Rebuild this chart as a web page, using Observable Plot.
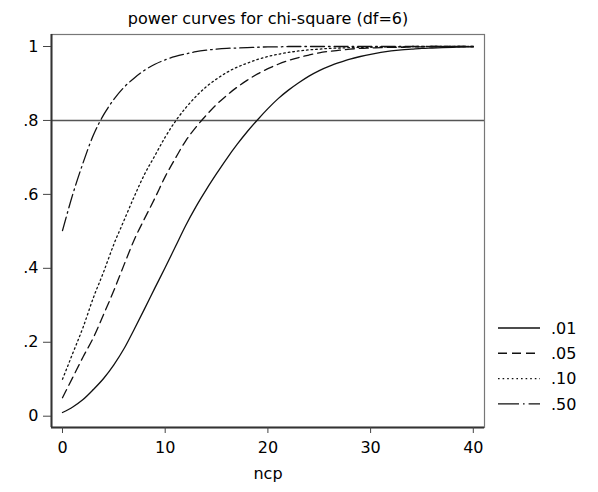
<!DOCTYPE html>
<html>
<head>
<meta charset="utf-8">
<script src="https://cdn.jsdelivr.net/npm/d3@7"></script>
<script src="https://cdn.jsdelivr.net/npm/@observablehq/plot@0.6"></script>
<style>
  html, body { margin: 0; padding: 0; background: #fff; }
  #wrap { position: relative; width: 598px; height: 492px; }
  #wrap svg { display: block; }
  #legend { position: absolute; left: 0; top: 0; pointer-events: none; }
</style>
</head>
<body>
<div id="wrap"></div>
<script>
const title = "power curves for chi-square (df=6)";
const xLabel = "ncp";
const ncp = [0,1,2,3,4,5,6,7,8,9,10,11,12,13,14,15,16,17,18,19,20,21,22,23,24,25,26,27,28,29,30,31,32,33,34,35,36,37,38,39,40];
const p01 = [0.010,0.025,0.045,0.072,0.102,0.139,0.183,0.236,0.291,0.347,0.402,0.459,0.516,0.567,0.613,0.656,0.697,0.735,0.770,0.802,0.832,0.859,0.882,0.902,0.920,0.935,0.947,0.957,0.966,0.973,0.979,0.984,0.988,0.991,0.993,0.995,0.996,0.997,0.998,0.999,0.999];
const p05 = [0.050,0.105,0.160,0.212,0.275,0.340,0.410,0.478,0.535,0.590,0.648,0.698,0.745,0.782,0.814,0.843,0.868,0.890,0.909,0.926,0.940,0.952,0.962,0.970,0.977,0.983,0.987,0.990,0.993,0.995,0.996,0.997,0.998,0.998,0.999,0.999,1.000,1.000,1.000,1.000,1.000];
const p10 = [0.100,0.170,0.240,0.320,0.390,0.465,0.530,0.595,0.655,0.705,0.755,0.798,0.834,0.865,0.891,0.912,0.930,0.944,0.955,0.965,0.973,0.979,0.984,0.988,0.991,0.993,0.995,0.996,0.997,0.998,0.998,0.999,0.999,0.999,1.000,1.000,1.000,1.000,1.000,1.000,1.000];
const p50 = [0.502,0.600,0.685,0.760,0.815,0.857,0.890,0.915,0.936,0.952,0.964,0.973,0.980,0.986,0.990,0.993,0.995,0.996,0.997,0.998,0.999,0.999,1.000,1.000,1.000,1.000,1.000,1.000,1.000,1.000,1.000,1.000,1.000,1.000,1.000,1.000,1.000,1.000,1.000,1.000,1.000];
const seriesNames = [".01", ".05", ".10", ".50"];
const seriesValues = [p01, p05, p10, p50];
const xTicks = [0, 10, 20, 30, 40];
const yTicks = [0, 0.2, 0.4, 0.6, 0.8, 1];
const refLine = [0.8];

const dashes = ["none", "9,5", "1.6,3", "14,4,1.6,4"];
const font = "'DejaVu Sans', sans-serif";
const ink = "#111";

const rows = [];
seriesNames.forEach((name, i) => {
  ncp.forEach((x, j) => rows.push({series: name, ncp: x, power: seriesValues[i][j]}));
});

const xDomain = [-1.07, 41.09];
const yDomain = [-0.0306, 1.0325];
const fmtY = d => d === 0 ? "0" : d === 1 ? "1" : d3.format(".1f")(d).replace(/^0/, "");

const chart = Plot.plot({
  width: 598,
  height: 492,
  marginLeft: 51,
  marginRight: 114,
  marginTop: 34,
  marginBottom: 65,
  style: {fontFamily: font, fontSize: "16px", color: "#000", background: "#fff"},
  x: {domain: xDomain},
  y: {domain: yDomain},
  marks: [
    Plot.ruleY(refLine, {stroke: "#555", strokeWidth: 1.4}),
    ...seriesNames.map((name, i) =>
      Plot.line(rows.filter(r => r.series === name), {
        x: "ncp", y: "power", stroke: ink, strokeWidth: 1.3,
        strokeDasharray: dashes[i] === "none" ? undefined : dashes[i],
        curve: "monotone-x"
      })
    ),
    Plot.frame({stroke: "#777", strokeWidth: 1.2}),
    Plot.ruleX([xDomain[0]], {stroke: "#333", strokeWidth: 2}),
    Plot.ruleY([yDomain[0]], {stroke: "#333", strokeWidth: 2}),
    Plot.axisX({ticks: xTicks, tickFormat: d => String(d), tickSize: 6, tickPadding: 8, stroke: "#444", label: null, fontSize: 16}),
    Plot.axisY({ticks: yTicks, tickFormat: fmtY, tickSize: 8, tickPadding: 5, stroke: "#444", label: null, fontSize: 16}),
    Plot.text([xLabel], {frameAnchor: "bottom", lineAnchor: "middle", dy: 46, fontSize: 16, fill: "#000"}),
    Plot.text([title], {frameAnchor: "top", lineAnchor: "middle", dy: -16, fontSize: 16, fill: "#000"})
  ]
});

const wrap = document.getElementById("wrap");
wrap.appendChild(chart);

// legend
const leg = d3.select(wrap).append("svg")
  .attr("id", "legend")
  .attr("width", 598).attr("height", 492);
const legX0 = 498, legX1 = 540, legY0 = 328, legStep = 25.3;
seriesNames.forEach((name, i) => {
  const y = legY0 + i * legStep;
  leg.append("line")
    .attr("x1", legX0).attr("x2", legX1).attr("y1", y).attr("y2", y)
    .attr("stroke", ink).attr("stroke-width", 1.4)
    .attr("stroke-dasharray", i === 3 ? "21,4,1.6,4" : (dashes[i] === "none" ? null : dashes[i]));
  leg.append("text")
    .attr("x", 551).attr("y", y).attr("dy", "0.35em")
    .attr("font-family", font).attr("font-size", 16).attr("fill", "#000")
    .text(name);
});
</script>
</body>
</html>
